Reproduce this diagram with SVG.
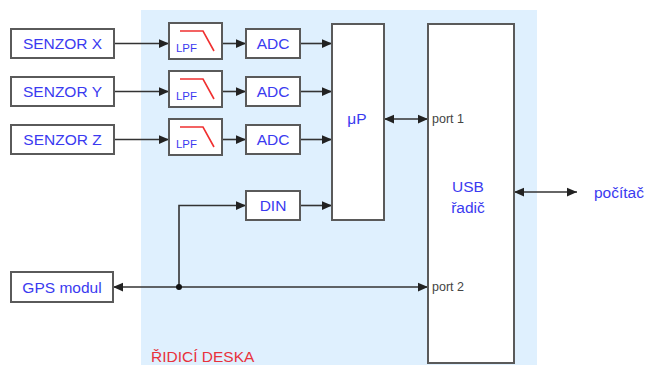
<svg xmlns="http://www.w3.org/2000/svg" width="647" height="365" viewBox="0 0 647 365">
<style>
.box{fill:#fff;stroke:#5a5a5a;stroke-width:2}
.lbl{font-family:"Liberation Sans",Arial,sans-serif;font-size:15.5px;fill:#3a3af0;text-anchor:middle;dominant-baseline:central}
.port{font-family:"Liberation Sans",Arial,sans-serif;font-size:12.5px;fill:#444;dominant-baseline:central}
.lpf{font-family:"Liberation Sans",Arial,sans-serif;font-size:10px;fill:#3a3af0}
.curve{fill:none;stroke:#f03030;stroke-width:1.6}
.ln{fill:none;stroke:#333;stroke-width:1.6}
.a{marker-end:url(#ah)}
.b{marker-start:url(#ah);marker-end:url(#ah)}
</style>
<defs>
<marker id="ah" markerUnits="userSpaceOnUse" markerWidth="10" markerHeight="10" viewBox="0 0 8 8" refX="8" refY="4" orient="auto-start-reverse">
<path d="M0,0.5 L8,4 L0,7.5 z" fill="#222"/>
</marker>
</defs>
<rect x="141" y="10" width="396" height="355" fill="#dff0fe"/>
<text x="151" y="362" font-family="'Liberation Sans',Arial,sans-serif" font-size="15.5" fill="#e8323c">ŘIDICÍ DESKA</text>

<g id="connectors">
<line class="ln a" x1="114" y1="43.5" x2="169" y2="43.5"/>
<line class="ln a" x1="114" y1="91.5" x2="169" y2="91.5"/>
<line class="ln a" x1="114" y1="139.5" x2="169" y2="139.5"/>
<line class="ln a" x1="222" y1="43.5" x2="246" y2="43.5"/>
<line class="ln a" x1="222" y1="91.5" x2="246" y2="91.5"/>
<line class="ln a" x1="222" y1="139.5" x2="246" y2="139.5"/>
<line class="ln a" x1="300" y1="43.5" x2="332" y2="43.5"/>
<line class="ln a" x1="300" y1="91.5" x2="332" y2="91.5"/>
<line class="ln a" x1="300" y1="139.5" x2="332" y2="139.5"/>
<line class="ln b" x1="384" y1="119" x2="428" y2="119"/>
<line class="ln b" x1="514" y1="192" x2="577" y2="192"/>
<line class="ln b" x1="113" y1="287" x2="428" y2="287"/>
<path class="ln a" d="M179,287 V205.5 H246"/>
<line class="ln a" x1="300" y1="205.5" x2="332" y2="205.5"/>
<circle cx="179" cy="287" r="3" fill="#111"/>
</g>

<g id="senzor-x"><rect class="box" x="11" y="29" width="103" height="29"/><text class="lbl" x="62.5" y="43.5">SENZOR X</text></g>
<g id="senzor-y"><rect class="box" x="11" y="77" width="103" height="29"/><text class="lbl" x="62.5" y="91.5">SENZOR Y</text></g>
<g id="senzor-z"><rect class="box" x="11" y="125" width="103" height="29"/><text class="lbl" x="62.5" y="139.5">SENZOR Z</text></g>

<g id="lpf-x"><rect class="box" x="169" y="23" width="53" height="36"/><path class="curve" d="M180,31 H203 L214,51"/><text class="lpf" x="176" y="52" textLength="21" lengthAdjust="spacingAndGlyphs">LPF</text></g>
<g id="lpf-y"><rect class="box" x="169" y="71" width="53" height="36"/><path class="curve" d="M180,79 H203 L214,99"/><text class="lpf" x="176" y="100" textLength="21" lengthAdjust="spacingAndGlyphs">LPF</text></g>
<g id="lpf-z"><rect class="box" x="169" y="119" width="53" height="36"/><path class="curve" d="M180,127 H203 L214,147"/><text class="lpf" x="176" y="148" textLength="21" lengthAdjust="spacingAndGlyphs">LPF</text></g>

<g id="adc-x"><rect class="box" x="246" y="29" width="54" height="29"/><text class="lbl" x="273" y="43.5">ADC</text></g>
<g id="adc-y"><rect class="box" x="246" y="77" width="54" height="29"/><text class="lbl" x="273" y="91.5">ADC</text></g>
<g id="adc-z"><rect class="box" x="246" y="125" width="54" height="29"/><text class="lbl" x="273" y="139.5">ADC</text></g>

<g id="din"><rect class="box" x="246" y="191" width="54" height="29"/><text class="lbl" x="273" y="205.5">DIN</text></g>

<g id="up"><rect class="box" x="332" y="24" width="52" height="196"/><text class="lbl" x="357" y="118">μP</text></g>

<g id="usb"><rect class="box" x="428" y="24" width="86" height="339"/><text class="lbl" x="468" y="186">USB</text><text class="lbl" x="468" y="207">řadič</text><text class="port" x="432" y="119">port 1</text><text class="port" x="432" y="287">port 2</text></g>

<g id="gps"><rect class="box" x="11" y="272" width="102" height="30"/><text class="lbl" x="62" y="287">GPS modul</text></g>

<g id="pocitac"><text class="lbl" x="594" y="192" style="text-anchor:start">počítač</text></g>
</svg>
